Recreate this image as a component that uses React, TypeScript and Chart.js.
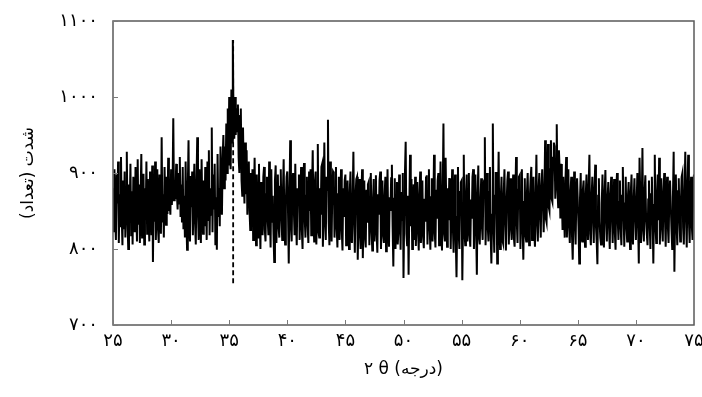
import React, { useEffect, useRef } from "react";
import { Chart, registerables } from "chart.js";

Chart.register(...registerables);

// 2θ scan: starts at 25°, one reading every 0.0625°
const START_ANGLE = 25;
const STEP_ANGLE = 0.0625;

// intensity (counts), 16 readings per degree
const intensity = [
  880, 822, 905, 840, 812, 898, 860, 915, 808, 872, 830, 921, 845, 805, 890, 826, // 25
  902, 815, 868, 928, 835, 800, 885, 850, 912, 818, 876, 806, 895, 842, 822, 908, // 26
  858, 810, 918, 832, 885, 808, 870, 925, 815, 848, 899, 806, 880, 838, 915, 820, // 27
  892, 845, 810, 902, 866, 818, 910, 783, 875, 836, 915, 812, 860, 905, 826, 808, // 28
  898, 848, 820, 947, 835, 872, 815, 908, 855, 832, 895, 846, 920, 850, 862, 845, // 29
  905, 858, 880, 972, 864, 890, 866, 912, 872, 852, 900, 860, 921, 842, 885, 835, // 30
  908, 826, 870, 815, 915, 840, 799, 880, 943, 830, 810, 896, 855, 902, 818, 875, // 31
  912, 835, 806, 888, 947, 850, 812, 905, 862, 808, 918, 846, 820, 890, 830, 908, // 32
  870, 812, 915, 838, 930, 818, 880, 845, 960, 822, 898, 852, 912, 805, 868, 799, // 33
  925, 842, 880, 830, 935, 865, 845, 920, 950, 880, 935, 890, 965, 900, 985, 910, // 34
  1000, 925, 905, 1010, 940, 1075, 960, 945, 1000, 950, 985, 955, 990, 920, 900, 975, // 35
  985, 890, 870, 960, 900, 860, 940, 872, 930, 845, 905, 915, 850, 825, 900, 830, // 36
  905, 812, 865, 920, 835, 805, 898, 852, 815, 912, 840, 800, 888, 860, 818, 895, // 37
  908, 826, 810, 872, 895, 840, 818, 915, 850, 802, 905, 836, 870, 820, 783, 890, // 38
  910, 808, 855, 898, 830, 815, 882, 905, 840, 812, 876, 918, 826, 806, 860, 895, // 39
  902, 848, 781, 870, 943, 830, 810, 888, 900, 852, 818, 912, 838, 805, 880, 860, // 40
  898, 812, 862, 908, 826, 800, 885, 913, 840, 815, 870, 895, 832, 808, 902, 850, // 41
  905, 818, 875, 930, 842, 810, 888, 902, 806, 858, 938, 822, 815, 880, 845, 908, // 42
  912, 803, 860, 940, 835, 812, 895, 878, 970, 836, 805, 915, 850, 810, 880, 902, // 43
  900, 815, 848, 908, 830, 802, 872, 895, 812, 858, 905, 825, 798, 880, 842, 890, // 44
  898, 805, 852, 890, 828, 800, 875, 902, 818, 808, 866, 928, 840, 795, 870, 892, // 45
  895, 786, 840, 892, 822, 800, 868, 905, 788, 850, 890, 815, 802, 878, 836, 885, // 46
  888, 805, 850, 900, 826, 798, 862, 892, 810, 840, 897, 820, 795, 872, 845, 890, // 47
  902, 800, 845, 890, 818, 808, 870, 895, 797, 838, 905, 828, 803, 868, 850, 893, // 48
  911, 830, 777, 866, 893, 800, 845, 888, 806, 822, 898, 860, 799, 875, 838, 900, // 49
  762, 845, 900, 941, 820, 805, 870, 766, 855, 924, 830, 892, 800, 848, 885, 812, // 50
  895, 804, 840, 888, 825, 798, 872, 902, 808, 850, 890, 816, 801, 866, 836, 894, // 51
  897, 806, 852, 905, 830, 799, 868, 893, 810, 845, 924, 822, 802, 878, 840, 890, // 52
  900, 805, 848, 915, 832, 798, 870, 965, 820, 810, 920, 846, 803, 880, 838, 892, // 53
  893, 800, 855, 905, 828, 795, 866, 898, 812, 763, 842, 908, 820, 800, 875, 888, // 54
  890, 759, 838, 924, 822, 805, 870, 898, 810, 845, 900, 818, 803, 865, 840, 895, // 55
  905, 800, 848, 898, 826, 766, 870, 910, 815, 806, 862, 893, 830, 812, 880, 890, // 56
  947, 805, 852, 900, 830, 810, 875, 908, 820, 781, 845, 965, 835, 795, 870, 900, // 57
  900, 781, 855, 928, 826, 800, 868, 895, 812, 808, 872, 905, 838, 798, 860, 890, // 58
  902, 806, 850, 893, 828, 812, 866, 898, 815, 803, 870, 921, 836, 808, 878, 895, // 59
  897, 800, 845, 905, 830, 786, 862, 893, 818, 810, 875, 900, 840, 805, 868, 892, // 60
  908, 812, 852, 895, 826, 803, 870, 924, 835, 810, 878, 900, 845, 815, 882, 905, // 61
  905, 822, 868, 943, 840, 835, 890, 938, 855, 850, 905, 943, 866, 862, 920, 940, // 62
  935, 866, 900, 964, 880, 855, 930, 905, 840, 912, 870, 825, 895, 850, 815, 890, // 63
  921, 815, 860, 905, 830, 808, 875, 895, 818, 786, 850, 902, 835, 806, 870, 893, // 64
  893, 830, 781, 865, 900, 815, 810, 878, 890, 826, 803, 872, 898, 840, 812, 885, // 65
  924, 820, 805, 868, 895, 842, 808, 880, 911, 830, 810, 780, 870, 893, 836, 815, // 66
  806, 860, 898, 825, 802, 875, 904, 840, 810, 866, 888, 830, 800, 872, 895, 845, // 67
  808, 855, 892, 822, 799, 880, 900, 838, 812, 862, 890, 828, 805, 870, 908, 850, // 68
  803, 860, 895, 830, 810, 868, 888, 842, 800, 875, 898, 826, 806, 865, 893, 845, // 69
  812, 858, 900, 836, 781, 920, 870, 808, 852, 933, 826, 810, 875, 897, 840, 820, // 70
  805, 865, 890, 832, 800, 872, 895, 845, 781, 858, 924, 830, 808, 870, 898, 838, // 71
  920, 806, 862, 893, 828, 810, 875, 900, 842, 803, 866, 895, 830, 808, 870, 890, // 72
  890, 826, 800, 868, 928, 770, 850, 898, 832, 805, 876, 893, 840, 810, 862, 895, // 73
  900, 828, 806, 872, 928, 845, 802, 880, 924, 838, 808, 866, 895, 830, 812, 885, // 74
  898, // 75
];

// dashed reference line at the main peak
const peakAngle = [35.34, 35.34];
const peakIntensity = [755, 1075];

const xTicks = [25, 30, 35, 40, 45, 50, 55, 60, 65, 70, 75];
const yTicks = [700, 800, 900, 1000, 1100];

const xTitle = "۲ θ (درجه)";
const yTitle = "شدت (تعداد)";

const FONT = "'DejaVu Sans', sans-serif";

const toPersian = (n: number | string) =>
  String(n).replace(/\d/g, (d) => "۰۱۲۳۴۵۶۷۸۹"[+d]);

const framePlugin = {
  id: "frame",
  afterDatasetsDraw(chart: any) {
    const { ctx, chartArea, scales } = chart;
    const { left, top, right, bottom } = chartArea;
    ctx.save();
    ctx.strokeStyle = "#5a5a5a";
    ctx.lineWidth = 1.5;
    ctx.strokeRect(left, top, right - left, bottom - top);
    ctx.lineWidth = 1;
    ctx.strokeStyle = "#7a7a7a";
    ctx.beginPath();
    xTicks.forEach((v) => {
      const x = Math.round(scales.x.getPixelForValue(v)) + 0.5;
      ctx.moveTo(x, bottom);
      ctx.lineTo(x, bottom - 5);
    });
    yTicks.forEach((v) => {
      const y = Math.round(scales.y.getPixelForValue(v)) + 0.5;
      ctx.moveTo(left, y);
      ctx.lineTo(left + 5, y);
    });
    ctx.stroke();
    ctx.restore();
  },
};

export default function App() {
  const canvasRef = useRef<HTMLCanvasElement | null>(null);

  useEffect(() => {
    const canvas = canvasRef.current;
    if (!canvas) return;
    const scan = intensity.map((y, i) => ({ x: START_ANGLE + i * STEP_ANGLE, y }));
    const peak = peakAngle.map((x, i) => ({ x, y: peakIntensity[i] }));

    const chart = new Chart(canvas, {
      type: "line",
      data: {
        datasets: [
          {
            data: scan,
            borderColor: "#000",
            borderWidth: 2,
            pointRadius: 0,
            tension: 0,
            fill: false,
          },
          {
            data: peak,
            borderColor: "#000",
            borderWidth: 1.8,
            borderDash: [5, 3],
            pointRadius: 0,
            fill: false,
          },
        ],
      },
      options: {
        animation: false,
        responsive: false,
        devicePixelRatio: 1,
        layout: { padding: { left: 0, right: 8, top: 21, bottom: 0 } },
        plugins: { legend: { display: false }, tooltip: { enabled: false } },
        scales: {
          x: {
            type: "linear",
            min: 25,
            max: 75,
            afterBuildTicks: (s: any) => {
              s.ticks = xTicks.map((value) => ({ value }));
            },
            afterFit: (s: any) => {
              s.height = 72;
              s.paddingLeft = 0;
              s.paddingRight = 0;
            },
            grid: { display: false, drawTicks: false },
            border: { display: false },
            ticks: {
              padding: 6,
              maxRotation: 0,
              autoSkip: false,
              color: "#000",
              font: { family: FONT, size: 18 },
              callback: (v: any) => toPersian(v),
            },
            title: {
              display: true,
              text: xTitle,
              color: "#000",
              font: { family: FONT, size: 17 },
              padding: { top: 0, bottom: 17 },
            },
          },
          y: {
            type: "linear",
            min: 700,
            max: 1100,
            afterBuildTicks: (s: any) => {
              s.ticks = yTicks.map((value) => ({ value }));
            },
            afterFit: (s: any) => {
              s.width = 113;
              s.paddingTop = 0;
              s.paddingBottom = 0;
            },
            grid: { display: false, drawTicks: false },
            border: { display: false },
            ticks: {
              padding: 15,
              autoSkip: false,
              color: "#000",
              font: { family: FONT, size: 18 },
              callback: (v: any) => toPersian(v),
            },
            title: {
              display: true,
              text: yTitle,
              color: "#000",
              font: { family: FONT, size: 17 },
              padding: { top: 18, bottom: 0 },
            },
          },
        },
      },
      plugins: [framePlugin],
    } as any);

    return () => chart.destroy();
  }, []);

  return (
    <div style={{ position: "absolute", left: 0, top: 0, width: 702, height: 397, background: "#fff" }}>
      <canvas ref={canvasRef} width={702} height={397} style={{ display: "block" }} />
    </div>
  );
}
